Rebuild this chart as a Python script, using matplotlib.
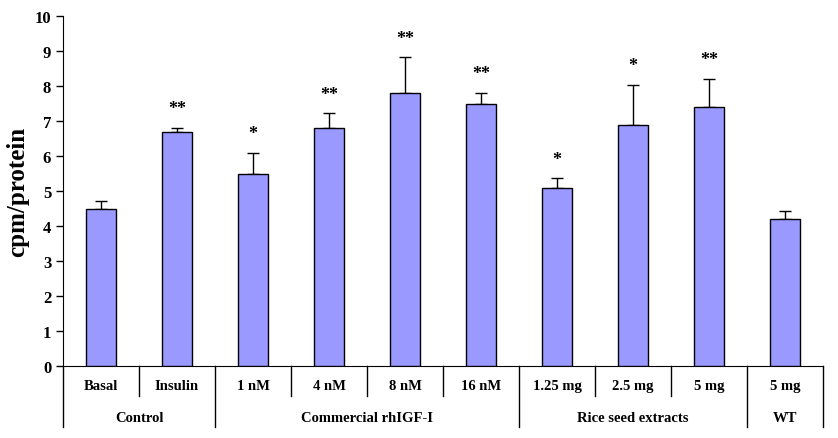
import matplotlib
matplotlib.use("Agg")
import matplotlib.pyplot as plt
import numpy as np

# values
categories = ["Basal", "Insulin", "1 nM", "4 nM", "8 nM", "16 nM",
              "1.25 mg", "2.5 mg", "5 mg", "5 mg"]
means = [4.5, 6.7, 5.5, 6.8, 7.8, 7.5, 5.08, 6.9, 7.4, 4.2]
errors = [0.22, 0.1, 0.6, 0.42, 1.02, 0.3, 0.28, 1.13, 0.8, 0.22]
stars = ["", "**", "*", "**", "**", "**", "*", "*", "**", ""]
groups = ["Control", "Commercial rhIGF-I", "Rice seed extracts", "WT"]
group_sizes = [2, 4, 3, 1]

plt.rcParams["font.family"] = ["Liberation Serif", "DejaVu Serif"]
plt.rcParams["font.weight"] = "bold"

fig = plt.figure(figsize=(8.38, 4.39), dpi=100)
ax = fig.add_axes([63 / 838, 72 / 439, 760 / 838, 350 / 439])

x = np.arange(len(categories))
ax.bar(x, means, width=0.4, color="#9999FF", edgecolor="black",
       linewidth=1.0, zorder=3)
ax.errorbar(x, means, yerr=[np.zeros(len(x)), errors], fmt="none",
            ecolor="black", elinewidth=1.0, capsize=4, capthick=1.0, zorder=2)

for xi, m, e, s in zip(x, means, errors, stars):
    if s:
        ax.text(xi, m + e + 0.55, s, ha="center", va="center",
                fontsize=13, fontweight="bold")

ax.set_xlim(-0.5, len(categories) - 0.5)
ax.set_ylim(0, 10)
ax.set_yticks(range(0, 11))
ax.tick_params(axis="y", labelsize=12, length=5, width=1, direction="out")
ax.tick_params(axis="x", bottom=False, labelbottom=False)
ax.spines["top"].set_visible(False)
ax.spines["right"].set_visible(False)
ax.set_ylabel("cpm/protein", fontsize=18, fontweight="bold", labelpad=4)

# two-level category axis
trans = ax.get_xaxis_transform()
row1, row2 = -0.086, -0.174
for i, c in enumerate(categories):
    ax.text(i, -0.057, c, transform=trans, ha="center", va="center",
            fontsize=10.5, fontweight="bold")

bounds = np.concatenate([[0], np.cumsum(group_sizes)]) - 0.5
for b in np.arange(-0.5, len(categories)):
    if b in bounds:
        ax.plot([b, b], [0, row2], transform=trans, color="black",
                lw=1, clip_on=False)
    else:
        ax.plot([b, b], [0, row1], transform=trans, color="black",
                lw=1, clip_on=False)

for g, lo, hi in zip(groups, bounds[:-1], bounds[1:]):
    ax.text((lo + hi) / 2, -0.146, g, transform=trans, ha="center",
            va="center", fontsize=10.5, fontweight="bold")

fig.savefig("out.png", dpi=100)
